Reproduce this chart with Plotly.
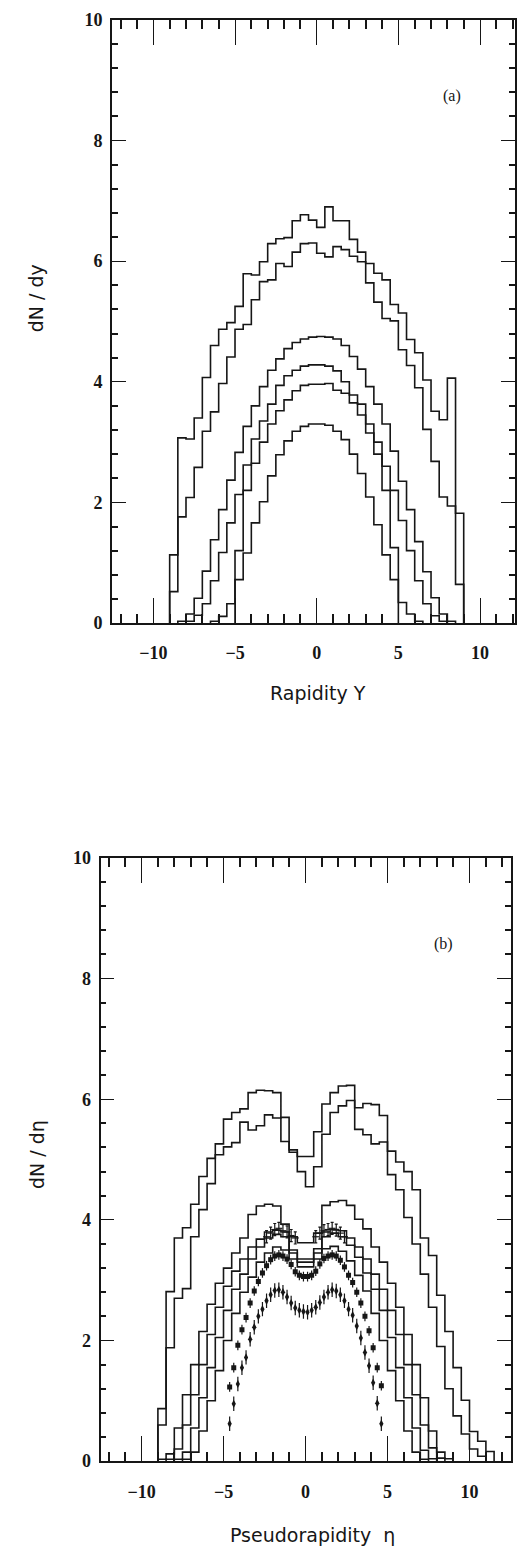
import plotly.graph_objects as go

W, H = 520, 1558
BIN = 0.5

# ---------------- Panel (a): dN/dy vs rapidity ----------------
a_A_start = -9.0
a_A = [1.13, 3.07, 3.05, 3.40, 4.07, 4.60, 4.87, 4.98, 5.25, 5.79, 5.77, 5.99,
       6.29, 6.37, 6.39, 6.67, 6.77, 6.68, 6.56, 6.90, 6.67, 6.67, 6.36, 6.15,
       5.96, 5.80, 5.69, 5.28, 5.14, 4.70, 4.48, 4.03, 3.51, 3.37, 4.06, 0.64]
a_B_start = -9.0
a_B = [0.52, 1.76, 2.08, 2.58, 3.18, 3.50, 3.97, 4.41, 4.87, 4.95, 5.36, 5.66,
       5.69, 5.96, 5.91, 6.15, 6.29, 6.30, 6.13, 6.07, 6.24, 6.19, 6.08, 5.99,
       5.64, 5.32, 5.05, 5.01, 4.53, 4.27, 3.90, 3.21, 2.68, 2.09, 1.94, 1.82]
a_C_start = -8.5
a_C = [0.03, 0.15, 0.41, 0.86, 1.38, 1.88, 2.37, 2.83, 3.26, 3.60, 3.92, 4.19,
       4.38, 4.55, 4.65, 4.71, 4.74, 4.75, 4.74, 4.71, 4.60, 4.42, 4.21, 3.92,
       3.63, 3.30, 2.85, 2.35, 1.88, 1.35, 0.85, 0.42, 0.15, 0.03]
a_D_start = -8.0
a_D = [0.03, 0.13, 0.32, 0.70, 1.17, 1.66, 2.13, 2.62, 3.05, 3.35, 3.63, 3.94,
       4.10, 4.19, 4.26, 4.28, 4.28, 4.26, 4.18, 4.00, 3.78, 3.63, 3.30, 3.00,
       2.60, 2.20, 1.70, 1.20, 0.70, 0.32, 0.12, 0.03]
a_E_start = -6.5
a_E = [0.03, 0.11, 0.32, 1.20, 2.20, 2.65, 3.00, 3.30, 3.52, 3.70, 3.85, 3.94,
       3.96, 3.96, 3.97, 3.86, 3.81, 3.65, 3.45, 3.15, 2.80, 2.20, 1.25, 0.34,
       0.15, 0.03]
a_F_start = -5.0
a_F = [0.72, 1.16, 1.66, 2.01, 2.44, 2.79, 3.02, 3.18, 3.26, 3.30, 3.30, 3.28,
       3.18, 3.04, 2.80, 2.48, 2.09, 1.63, 1.13, 0.72]

# ---------------- Panel (b): dN/deta vs pseudorapidity ----------------
b_A_start = -9.0
b_A = [0.87, 2.81, 3.70, 3.87, 4.26, 4.72, 5.02, 5.26, 5.67, 5.78, 5.84, 6.11,
       6.15, 6.14, 6.11, 5.30, 5.16, 5.05, 5.05, 5.46, 5.92, 6.11, 6.22, 6.23,
       5.86, 5.93, 5.91, 5.73, 5.14, 4.96, 4.80, 4.50, 3.70, 3.41, 2.75, 2.15,
       1.55, 1.01, 0.49, 0.33, 0.16]
b_B_start = -9.0
b_B = [0.60, 1.88, 2.70, 2.86, 3.72, 4.17, 4.60, 5.08, 5.21, 5.28, 5.62, 5.49,
       5.56, 5.74, 5.69, 5.70, 5.12, 4.80, 4.55, 4.88, 5.42, 5.78, 5.89, 5.98,
       5.50, 5.41, 5.26, 5.29, 4.75, 4.50, 4.04, 3.60, 3.10, 2.55, 1.90, 1.20,
       0.75, 0.45, 0.20, 0.08]
b_C_start = -9.0
b_C = [0.03, 0.12, 0.55, 1.10, 1.60, 2.15, 2.60, 2.95, 3.20, 3.45, 3.70, 4.09,
       4.23, 4.26, 4.23, 3.93, 3.72, 3.62, 3.62, 3.78, 4.24, 4.30, 4.32, 4.24,
       4.01, 3.85, 3.55, 3.30, 2.95, 2.55, 2.10, 1.60, 1.05, 0.50, 0.15, 0.04]
b_D_start = -8.5
b_D = [0.03, 0.20, 0.60, 1.10, 1.60, 2.10, 2.55, 2.90, 3.15, 3.35, 3.55, 3.68,
       3.80, 3.83, 3.80, 3.50, 3.35, 3.35, 3.52, 3.80, 3.84, 3.82, 3.70, 3.55,
       3.35, 3.10, 2.85, 2.50, 2.10, 1.60, 1.10, 0.60, 0.22, 0.05]
b_E_start = -8.0
b_E = [0.03, 0.15, 0.55, 1.05, 1.55, 2.05, 2.50, 2.85, 3.10, 3.35, 3.55, 3.70,
       3.76, 3.72, 3.45, 3.30, 3.30, 3.45, 3.72, 3.78, 3.72, 3.58, 3.38, 3.12,
       2.85, 2.50, 2.05, 1.55, 1.05, 0.55, 0.18, 0.04]
b_F_start = -7.5
b_F = [0.03, 0.15, 0.50, 1.00, 1.50, 2.00, 2.45, 2.80, 3.05, 3.30, 3.45, 3.55,
       3.50, 3.35, 3.22, 3.22, 3.35, 3.52, 3.56, 3.48, 3.32, 3.08, 2.82, 2.45,
       2.00, 1.50, 1.00, 0.50, 0.15, 0.03]

# data points (panel b)
sq_eta = [-4.625, -4.375, -4.125, -3.875, -3.625, -3.375, -3.125, -2.875, -2.625,
          -2.375, -2.125, -1.875, -1.625, -1.375, -1.125, -0.875, -0.625, -0.375,
          -0.125, 0.125, 0.375, 0.625, 0.875, 1.125, 1.375, 1.625, 1.875, 2.125,
          2.375, 2.625, 2.875, 3.125, 3.375, 3.625, 3.875, 4.125, 4.375, 4.625]
sq_val = [1.23, 1.55, 1.92, 2.18, 2.38, 2.62, 2.82, 2.98, 3.12, 3.24, 3.34, 3.40,
          3.42, 3.40, 3.35, 3.26, 3.14, 3.08, 3.06, 3.06, 3.08, 3.15, 3.27, 3.36,
          3.40, 3.42, 3.40, 3.33, 3.22, 3.08, 2.96, 2.80, 2.62, 2.40, 2.16, 1.88,
          1.55, 1.25]
sq_err = [0.08] * 38

dm_eta = sq_eta
dm_val = [0.62, 0.95, 1.28, 1.55, 1.72, 2.02, 2.22, 2.40, 2.52, 2.66, 2.76, 2.83,
          2.84, 2.80, 2.72, 2.62, 2.54, 2.50, 2.48, 2.47, 2.50, 2.55, 2.63, 2.72,
          2.80, 2.84, 2.82, 2.76, 2.66, 2.52, 2.42, 2.24, 2.04, 1.80, 1.58, 1.30,
          0.96, 0.62]
dm_err = [0.12] * 38

cr_eta = [-2.375, -2.125, -1.875, -1.625, -1.375, -1.125, -0.875, -0.625,
          0.625, 0.875, 1.125, 1.375, 1.625, 1.875, 2.125, 2.375]
cr_val = [3.72, 3.78, 3.84, 3.86, 3.82, 3.80, 3.74, 3.70,
          3.72, 3.78, 3.82, 3.84, 3.86, 3.83, 3.78, 3.72]
cr_err = [0.10] * 16

INK = "#161616"


def outline(start, vals):
    edges = [start + BIN * i for i in range(len(vals) + 1)]
    xs = [edges[0]] + edges[:-1] + [edges[-1]]
    ys = [0.0] + list(vals) + [0.0]
    return xs, ys


fig = go.Figure()
for start, vals in [(a_A_start, a_A), (a_B_start, a_B), (a_C_start, a_C),
                    (a_D_start, a_D), (a_E_start, a_E), (a_F_start, a_F)]:
    xs, ys = outline(start, vals)
    fig.add_trace(go.Scatter(x=xs, y=ys, mode="lines", line=dict(shape="hv", color=INK, width=1.6),
                             xaxis="x", yaxis="y", hoverinfo="skip"))

for start, vals in [(b_A_start, b_A), (b_B_start, b_B), (b_C_start, b_C),
                    (b_D_start, b_D), (b_E_start, b_E), (b_F_start, b_F)]:
    xs, ys = outline(start, vals)
    fig.add_trace(go.Scatter(x=xs, y=ys, mode="lines", line=dict(shape="hv", color=INK, width=1.6),
                             xaxis="x2", yaxis="y2", hoverinfo="skip"))

fig.add_trace(go.Scatter(x=sq_eta, y=sq_val, mode="markers", xaxis="x2", yaxis="y2",
                         marker=dict(symbol="square", size=5, color=INK),
                         error_y=dict(type="data", array=sq_err, width=0, thickness=1.2, color=INK)))
fig.add_trace(go.Scatter(x=dm_eta, y=dm_val, mode="markers", xaxis="x2", yaxis="y2",
                         marker=dict(symbol="diamond-tall", size=6, color=INK),
                         error_y=dict(type="data", array=dm_err, width=0, thickness=1.2, color=INK)))
fig.add_trace(go.Scatter(x=cr_eta, y=cr_val, mode="markers", xaxis="x2", yaxis="y2",
                         marker=dict(symbol="line-ew", size=5, color=INK, line=dict(width=1.2, color=INK)),
                         error_y=dict(type="data", array=cr_err, width=1.5, thickness=1.2, color=INK)))

XRA = [-12.53, 12.14]
XRB = [-12.5, 12.5]

tickfont = dict(family="Liberation Serif", size=18, color=INK, weight="bold")


def xax(domain, rng, anchor):
    return dict(domain=domain, range=rng, anchor=anchor, showline=True, linecolor=INK,
                linewidth=1.6, mirror="allticks", ticks="inside", ticklen=25, tickwidth=1.4,
                tickcolor=INK, tickmode="linear", dtick=5, showgrid=False,
                zeroline=False, tickfont=tickfont, ticklabelstandoff=13,
                minor=dict(dtick=1, ticks="inside", ticklen=9, tickwidth=1.5, tickcolor=INK))


def yax(domain, anchor):
    return dict(domain=domain, range=[0, 10], anchor=anchor, showline=True, linecolor=INK,
                linewidth=1.6, mirror="allticks", ticks="inside", ticklen=14, tickwidth=1.4,
                tickcolor=INK, tickmode="linear", dtick=2, showgrid=False,
                zeroline=False, tickfont=tickfont, ticklabelstandoff=4,
                minor=dict(dtick=0.4, ticks="inside", ticklen=6, tickwidth=1.5, tickcolor=INK))


xa = xax([112 / W, 515 / W], XRA, "y")
xb = xax([100.5 / W, 510.5 / W], XRB, "y2")
ya = yax([1 - 621 / H, 1 - 10 / H], "x")
yb = yax([1 - 1470 / H, 1 - 859 / H], "x2")


def px(x, y):
    return x / W, 1 - y / H


labfont = dict(family="DejaVu Sans", size=19, color=INK)
annots = []
for text, (x, y), rot in [("dN / dy", (36, 292), -90), ("dN / dη", (37, 1160), -90),
                          ("Rapidity Y", (318, 692), 0),
                          ("Pseudorapidity\u00a0\u00a0η", (312, 1545), 0)]:
    ax_, ay_ = px(x, y)
    annots.append(dict(text=text, x=ax_, y=ay_, xref="paper", yref="paper", showarrow=False,
                       xanchor="center", yanchor="middle", textangle=rot, font=labfont))
for text, (x, y) in [("(a)", (452, 87)), ("(b)", (443, 946))]:
    ax_, ay_ = px(x, y)
    annots.append(dict(text=text, x=ax_, y=ay_, xref="paper", yref="paper", showarrow=False,
                       xanchor="center", yanchor="middle",
                       font=dict(family="Liberation Serif", size=16, color=INK)))

fig.update_layout(width=W, height=H, margin=dict(l=0, r=0, t=0, b=0),
                  paper_bgcolor="white", plot_bgcolor="white", showlegend=False,
                  xaxis=xa, yaxis=ya, xaxis2=xb, yaxis2=yb,
                  annotations=annots)

fig.write_html("out.html")
